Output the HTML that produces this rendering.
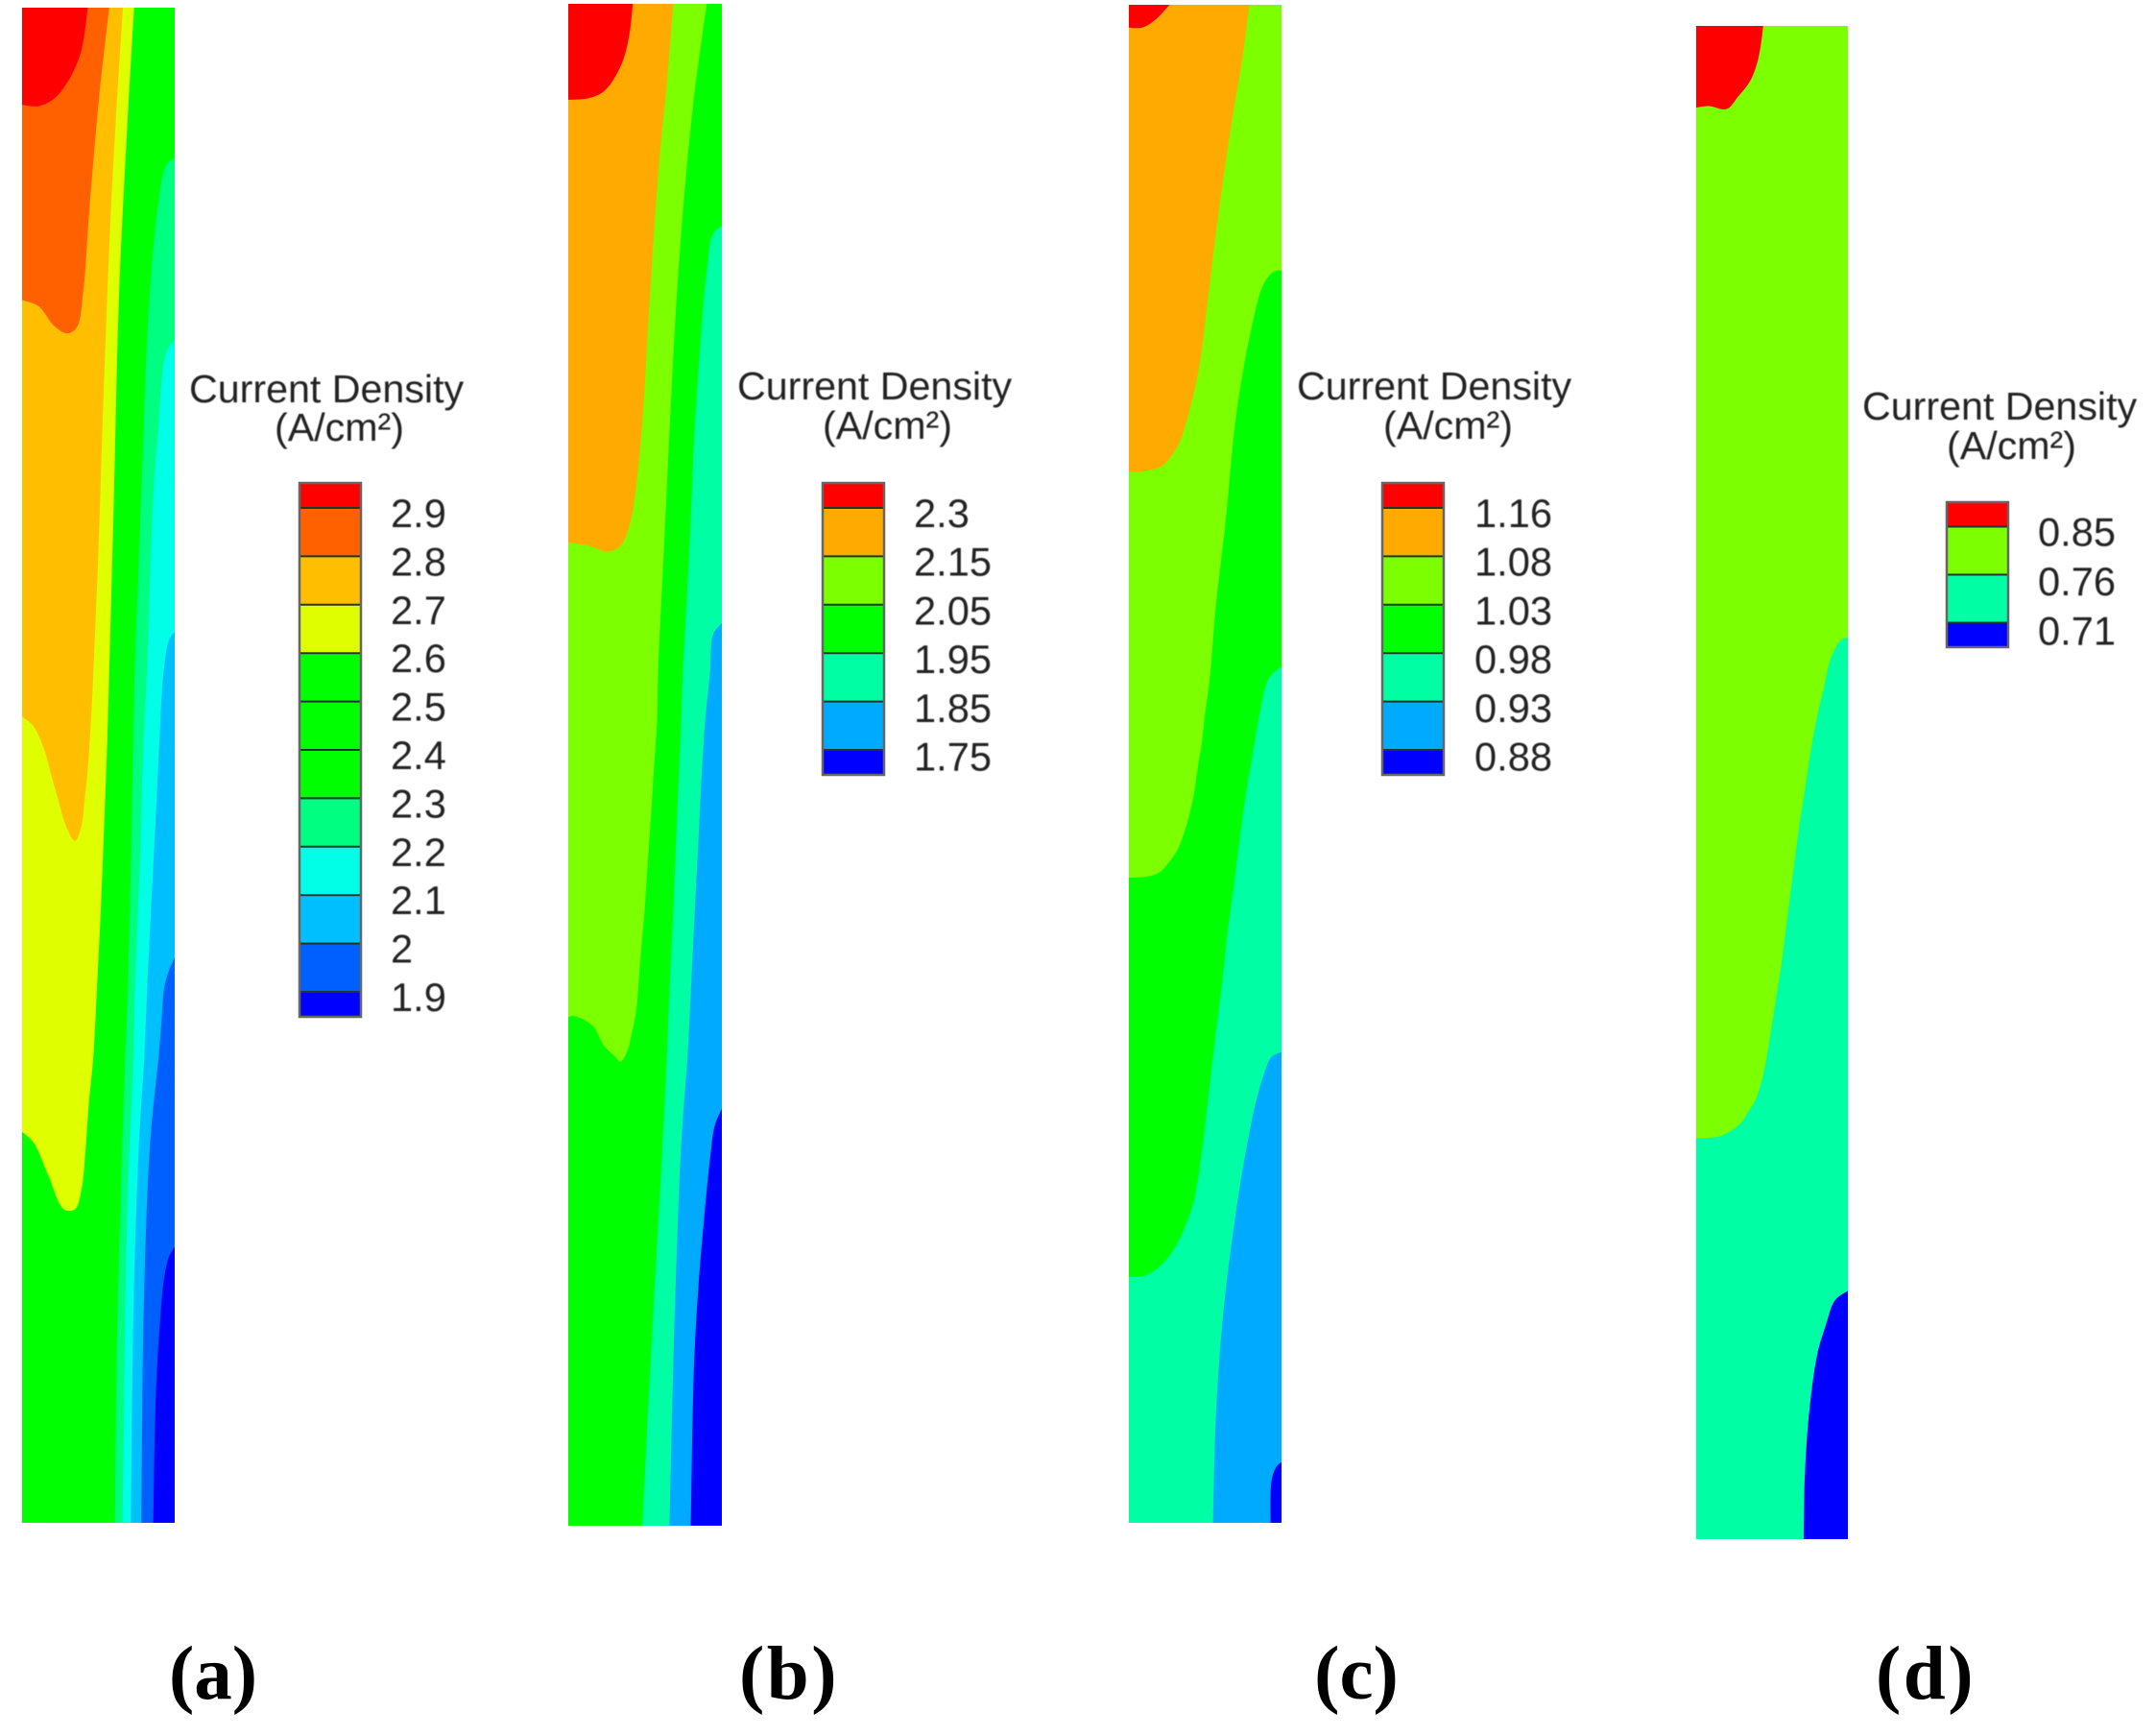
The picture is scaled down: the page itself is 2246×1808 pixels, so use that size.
<!DOCTYPE html>
<html lang="en">
<head>
<meta charset="utf-8">
<title>Current density contour panels</title>
<style>
html,body{margin:0;padding:0;background:#fff;}
svg{display:block;}
.legend-title{font-family:"Liberation Sans",Arial,sans-serif;font-size:41.2px;fill:#222;filter:blur(0.5px);}
.tick-label{font-family:"Liberation Sans",Arial,sans-serif;font-size:41.6px;fill:#222;filter:blur(0.5px);}
.panel-label{font-family:"Liberation Serif","Times New Roman",serif;font-size:79px;font-weight:bold;fill:#000;text-anchor:middle;}
</style>
</head>
<body>
<svg id="figure" xmlns="http://www.w3.org/2000/svg" width="2246" height="1808" viewBox="0 0 2246 1808">
  <rect width="2246" height="1808" fill="#fff"/>
  <g id="panel-a">
    <text class="legend-title" x="197" y="419">Current Density</text>
    <text class="legend-title" x="286" y="459">(A/cm²)</text>
    <text class="panel-label" x="222" y="1769">(a)</text>
  </g>
  <g id="panel-b">
    <text class="legend-title" x="768" y="416">Current Density</text>
    <text class="legend-title" x="857" y="457">(A/cm²)</text>
    <text class="panel-label" x="822" y="1769" letter-spacing="2.5">(b)</text>
  </g>
  <g id="panel-c">
    <text class="legend-title" x="1351" y="416">Current Density</text>
    <text class="legend-title" x="1441" y="457">(A/cm²)</text>
    <text class="panel-label" x="1413" y="1769">(c)</text>
  </g>
  <g id="panel-d">
    <text class="legend-title" x="1940" y="437">Current Density</text>
    <text class="legend-title" x="2028" y="478">(A/cm²)</text>
    <text class="panel-label" x="2006" y="1769" letter-spacing="2.5">(d)</text>
  </g>
</svg>
<script>
// Legend tick labels, top to bottom
const legendLabelsA = ['2.9','2.8','2.7','2.6','2.5','2.4','2.3','2.2','2.1','2','1.9'];
const legendLabelsB = ['2.3','2.15','2.05','1.95','1.85','1.75'];
const legendLabelsC = ['1.16','1.08','1.03','0.98','0.93','0.88'];
const legendLabelsD = ['0.85','0.76','0.71'];

// Level boundaries: [across-channel %, along-channel %], highest level first
const contoursA = [
  [[0,6.4],[10.7,6.5],[21,6],[31.6,4.6],[38.9,2.8],[43,0]],
  [[0,19.3],[10.7,19.7],[21,21],[29.5,21.5],[35.8,21.1],[40,18.8],[44.1,13.3],[50.4,6],[57.1,0]],
  [[0,46.8],[6.5,47.3],[10.7,48],[14.9,49.1],[19,50.6],[23.2,52.1],[29.5,54.2],[34.7,55],[38.9,54],[41,52.3],[43.1,50.2],[45.2,47],[46.7,43.9],[50,35.9],[53.6,25],[58.8,12.2],[66.1,0]],
  [[0,74.2],[7.5,74.9],[16.9,77],[27.4,79.3],[34.7,79.3],[38.9,78],[41.5,75.5],[43.6,72.5],[46.7,69.2],[49.4,64],[51.5,59.7],[53.6,54.4],[55.6,49.1],[57.1,43.85],[60,33],[64,17.7],[73.4,0]],
  [[60.9,100],[61.9,89.5],[64.6,78.5],[67.6,69.2],[69.2,65],[70.3,60.7],[71.3,56.5],[73.8,43.85],[76,38],[78.7,30.4],[82.2,21.3],[86,15.9],[89.1,13],[94.4,10.4],[100,9.9]],
  [[65.9,100],[67.1,89.5],[69.2,78.5],[73,69.2],[73.8,65],[75.5,60.7],[77.2,56.5],[79.3,49.1],[81.8,43.85],[86,32.2],[89.1,27.9],[94.4,22.8],[100,21.9]],
  [[71.3,100],[73,85.9],[76.6,74.9],[80.1,69.2],[81.8,65],[83.9,60.7],[86,56.5],[88.1,52.3],[90.2,48],[92.7,43.85],[96.4,41.7],[100,41.2]],
  [[78.2,100],[79.7,85.9],[83.9,74.9],[89.5,69.2],[91.2,67.1],[93.3,64.6],[96.4,63.5],[100,62.7]],
  [[86,100],[87.7,91.4],[90.2,87],[93.3,83.7],[96.4,82.4],[100,81.8]]
];
const contoursB = [
  [[0,6.3],[13.3,6.2],[23.7,5.7],[34.1,4.1],[39.3,2.3],[42,0]],
  [[0,35.4],[13.3,35.6],[25.8,36],[34.1,35.6],[40.3,34.1],[45.5,30.5],[48.6,26.9],[52.8,19.7],[59,10.6],[64.2,5.2],[68.4,0]],
  [[0,66.6],[2.7,66.5],[9,66.7],[16.3,67.2],[23.5,68.5],[29.8,69.1],[34,69.5],[38.1,68.9],[41.3,67.7],[44.4,66],[46.9,62.8],[49.6,59.7],[51.7,56.5],[53.8,53.4],[55.8,50.2],[57.9,47],[58.5,43.9],[62.2,36],[71.5,17.9],[80.9,7],[90.2,0]],
  [[48.2,100],[54.5,87.5],[60.5,76.6],[64.2,69.1],[66.3,63.9],[68.3,59.7],[70.4,54.4],[73.1,48.1],[74.6,43.9],[78.8,36],[81.9,28.7],[86.1,22.2],[90.2,17.5],[94.4,15.1],[100,14.6]],
  [[65.9,100],[69.4,85.7],[73.6,74.8],[77.7,69.1],[78.8,67],[80.8,62.8],[82.9,58.6],[85,54.4],[87.1,50.2],[89.2,47],[92.3,43.9],[94.4,41.4],[100,40.7]],
  [[79.8,100],[81.9,89.4],[85,83.9],[88.1,80.2],[92.3,75.9],[95.4,73.7],[100,72.6]]
];
const contoursC = [
  [[0,1.5],[8.8,1.5],[17.2,1],[26.6,0]],
  [[0,30.8],[10.9,30.7],[21.3,30.4],[31.8,29.1],[40.2,26.5],[46.4,23.6],[52.7,18.6],[59,13.5],[67.4,7.7],[74.7,3.3],[78.9,0]],
  [[0,57.5],[13.4,57.4],[20.7,57.1],[26.9,56.4],[32.2,55.6],[36.3,54.5],[39.5,53.4],[42.6,52],[45.1,50.3],[47.8,48.6],[49.9,46.7],[52,45.2],[53.4,44],[57,39.6],[63.2,34.2],[70.5,26.9],[79.9,21.5],[88.3,18.4],[94.6,17.6],[100,17.5]],
  [[0,83.8],[10.9,83.7],[21.3,83],[28,82.2],[36,80.7],[43,78.6],[48.5,75],[52,72],[55.1,69.3],[58.2,66.7],[61.4,64.2],[64.5,61.2],[68.7,58.1],[71.8,55.6],[76,52.4],[80.2,49.9],[83.3,48],[86.4,46.3],[90.6,44.6],[94.8,44],[100,43.6]],
  [[55.2,100],[56.9,93.2],[62.1,85.9],[71.5,78.6],[77.8,74.9],[83.1,72.3],[88.3,70.5],[93.5,69.3],[100,69]],
  [[92.9,100],[93.5,97.2],[96.7,96.3],[100,96]]
];
const contoursD = [
  [[0,5.4],[8.4,5.3],[20,5.5],[27.4,4.7],[35.8,3.6],[41.1,2.1],[44.2,0]],
  [[0,73.5],[14.6,73.4],[23.1,73],[29.4,72.5],[34.7,71.7],[39,71],[43.2,69.7],[46.4,68.2],[49.6,66.2],[52.8,64.2],[55.9,62.2],[59.1,59.7],[62.3,57.2],[65.5,54.7],[68.6,52.4],[71.8,50.4],[75,48.2],[78.2,46.4],[81.4,44.9],[84.5,43.6],[87.7,42.1],[90.9,41.3],[95.1,40.6],[100,40.4]],
  [[70.9,100],[71.6,95.8],[74.7,91.4],[80,87.7],[85.3,85.9],[91.6,84.2],[100,83.6]]
];

// Colour maps (separate from the data)
const legendColorsA = ['#ff0000','#ff6000','#ffbf00','#dfff00','#00ff00','#00ff00','#00ff00','#00ff80','#00ffe6','#00bfff','#0060ff','#0000ff'];
const legendColorsB = ['#ff0000','#ffaa00','#7cff00','#00ff00','#00ffa5','#00aaff','#0000ff'];
const legendColorsD = ['#ff0000','#7cff00','#00ffa5','#0000ff'];
const regionColorsA = ['#ff0000','#ff6000','#ffbf00','#dfff00','#00ff00','#00ff80','#00ffe6','#00bfff','#0060ff','#0000ff'];

const SVG_NS = 'http://www.w3.org/2000/svg';

// Centripetal Catmull-Rom through the points, converted to cubic Beziers
function smoothPath(points) {
  const dist = (a, b) => Math.sqrt(Math.hypot(a[0] - b[0], a[1] - b[1]));
  let d = 'M' + points[0][0].toFixed(2) + ' ' + points[0][1].toFixed(2);
  for (let i = 0; i < points.length - 1; i++) {
    const p0 = points[Math.max(i - 1, 0)];
    const p1 = points[i];
    const p2 = points[i + 1];
    const p3 = points[Math.min(i + 2, points.length - 1)];
    const d1 = dist(p0, p1);
    const d2 = dist(p1, p2);
    const d3 = dist(p2, p3);
    let c1 = p1;
    let c2 = p2;
    if (d1 > 0) {
      const k = 2 * d1 * d1 + 3 * d1 * d2 + d2 * d2;
      const n = 3 * d1 * (d1 + d2);
      c1 = [0, 1].map(j => (d1 * d1 * p2[j] - d2 * d2 * p0[j] + k * p1[j]) / n);
    }
    if (d3 > 0) {
      const k = 2 * d3 * d3 + 3 * d3 * d2 + d2 * d2;
      const n = 3 * d3 * (d3 + d2);
      c2 = [0, 1].map(j => (d3 * d3 * p1[j] - d2 * d2 * p3[j] + k * p2[j]) / n);
    }
    d += 'C' + c1[0].toFixed(2) + ' ' + c1[1].toFixed(2) + ' ' + c2[0].toFixed(2) + ' ' + c2[1].toFixed(2) + ' ' + p2[0].toFixed(2) + ' ' + p2[1].toFixed(2);
  }
  return d;
}

function drawPlot(id, box, contours, colors) {
  const parent = document.getElementById('panel-' + id);
  const xScale = v => box.x + v / 100 * box.w;
  const yScale = v => box.y + v / 100 * box.h;

  const clip = document.createElementNS(SVG_NS, 'clipPath');
  clip.setAttribute('id', 'clip-' + id);
  const clipRect = document.createElementNS(SVG_NS, 'rect');
  clipRect.setAttribute('x', box.x);
  clipRect.setAttribute('y', box.y);
  clipRect.setAttribute('width', box.w);
  clipRect.setAttribute('height', box.h);
  clip.appendChild(clipRect);
  parent.appendChild(clip);

  const plot = document.createElementNS(SVG_NS, 'g');
  plot.setAttribute('clip-path', 'url(#clip-' + id + ')');
  
  
  parent.appendChild(plot);

  const base = document.createElementNS(SVG_NS, 'rect');
  base.setAttribute('x', box.x);
  base.setAttribute('y', box.y);
  base.setAttribute('width', box.w);
  base.setAttribute('height', box.h);
  base.setAttribute('fill', colors[colors.length - 1]);
  
  
  plot.appendChild(base);

  for (let i = contours.length - 1; i >= 0; i--) {
    const line = contours[i];
    const pts = line.map(p => [xScale(p[0]), yScale(p[1])]);
    const first = line[0];
    const last = line[line.length - 1];
    let d = smoothPath(pts);
    if (last[0] >= 100) d += 'L' + xScale(100) + ' ' + yScale(0);
    d += 'L' + xScale(0) + ' ' + yScale(0);
    if (first[1] >= 100) d += 'L' + xScale(0) + ' ' + yScale(100);
    d += 'Z';
    const region = document.createElementNS(SVG_NS, 'path');
    region.setAttribute('d', d);
    region.setAttribute('fill', colors[i]);
    
    
    plot.appendChild(region);
  }
}

function drawLegend(id, layout, labels, colors) {
  const parent = document.getElementById('panel-' + id);
  const tickY = i => layout.top + layout.half + i * layout.step;
  const group = document.createElementNS(SVG_NS, 'g');
  
  
  parent.appendChild(group);

  colors.forEach((color, i) => {
    const y0 = i === 0 ? layout.top : tickY(i - 1);
    const y1 = i === labels.length ? tickY(labels.length - 1) + layout.half : tickY(i);
    const band = document.createElementNS(SVG_NS, 'rect');
    band.setAttribute('x', layout.x);
    band.setAttribute('y', y0);
    band.setAttribute('width', layout.w);
    band.setAttribute('height', y1 - y0);
    band.setAttribute('fill', color);
    
    
    group.appendChild(band);
  });

  labels.forEach((label, i) => {
    const rule = document.createElementNS(SVG_NS, 'line');
    rule.setAttribute('x1', layout.x);
    rule.setAttribute('x2', layout.x + layout.w);
    rule.setAttribute('y1', tickY(i));
    rule.setAttribute('y2', tickY(i));
    rule.setAttribute('stroke', '#1a3a2a');
    rule.setAttribute('stroke-width', '2');
    
    
    group.appendChild(rule);

    const text = document.createElementNS(SVG_NS, 'text');
    text.setAttribute('class', 'tick-label');
    text.setAttribute('x', layout.labelX);
    text.setAttribute('y', tickY(i) + 20 + i * layout.drift);
    text.textContent = label;
    
    
    group.appendChild(text);
  });

  const frame = document.createElementNS(SVG_NS, 'rect');
  frame.setAttribute('x', layout.x);
  frame.setAttribute('y', layout.top);
  frame.setAttribute('width', layout.w);
  frame.setAttribute('height', layout.half * 2 + layout.step * (labels.length - 1));
  frame.setAttribute('fill', 'none');
  frame.setAttribute('stroke', '#666');
  frame.setAttribute('stroke-width', '2.5');
  
  
  group.appendChild(frame);
}

drawPlot('a', {x:23, y:8, w:159, h:1578}, contoursA, regionColorsA);
drawPlot('b', {x:592, y:4, w:160, h:1585}, contoursB, legendColorsB);
drawPlot('c', {x:1176, y:5, w:159, h:1581}, contoursC, legendColorsB);
drawPlot('d', {x:1767, y:27, w:158, h:1576}, contoursD, legendColorsD);

drawLegend('a', {x:312, w:64, top:503, half:26, step:50.4, labelX:407, drift:0}, legendLabelsA, legendColorsA);
drawLegend('b', {x:857, w:64, top:503, half:26, step:50.4, labelX:952, drift:0.3}, legendLabelsB, legendColorsB);
drawLegend('c', {x:1440, w:64, top:503, half:26, step:50.4, labelX:1536, drift:0.3}, legendLabelsC, legendColorsB);
drawLegend('d', {x:2028, w:64, top:523, half:25.5, step:50, labelX:2123, drift:1.4}, legendLabelsD, legendColorsD);
</script>
</body>
</html>
